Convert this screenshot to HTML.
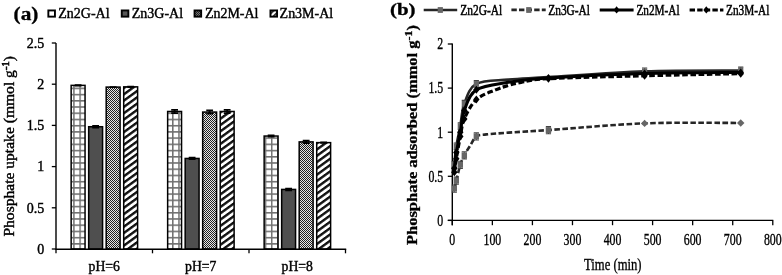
<!DOCTYPE html>
<html><head><meta charset="utf-8"><title>chart</title>
<style>
html,body{margin:0;padding:0;background:#fff;}
body{width:782px;height:275px;overflow:hidden;}
svg{display:block;will-change:transform;}
text{font-family:"Liberation Serif",serif;fill:#000;}
.t14{font-size:14px;stroke:#000;stroke-width:0.4px;}
.t16{font-size:16px;stroke:#000;stroke-width:0.35px;}
.tb{font-size:18.5px;font-weight:bold;stroke:#000;stroke-width:0.3px;}
.tbb{font-size:13.8px;font-weight:bold;stroke:#000;stroke-width:0.3px;}
</style></head><body>
<svg width="782" height="275" viewBox="0 0 782 275">
<rect width="782" height="275" fill="#fff"/>
<defs>
<pattern id="pgrid" width="6.18" height="6.22" patternUnits="userSpaceOnUse" x="73.2" y="0.5">
<rect width="6.18" height="6.22" fill="#fff"/><path d="M0,0.7 H6.18 M0.7,0 V6.22" stroke="#707070" stroke-width="1.5"/></pattern>
<pattern id="pdots" width="2" height="2" patternUnits="userSpaceOnUse">
<rect width="2" height="2" fill="#e6e6e6"/><rect width="1" height="1" fill="#222"/><rect x="1" y="1" width="1" height="1" fill="#222"/></pattern>
<pattern id="pdiag" width="5.1" height="5.1" patternUnits="userSpaceOnUse" patternTransform="rotate(-36)">
<rect width="5.1" height="5.1" fill="#fff"/><rect width="5.1" height="2.4" fill="#111"/></pattern>
<pattern id="lgrid" width="4" height="4" patternUnits="userSpaceOnUse"><rect width="4" height="4" fill="#fff"/></pattern>
<pattern id="ldots" width="2" height="2" patternUnits="userSpaceOnUse"><rect width="2" height="2" fill="#777"/><rect width="1" height="1" fill="#222"/><rect x="1" y="1" width="1" height="1" fill="#222"/></pattern>
<pattern id="ldiag" width="4" height="4" patternUnits="userSpaceOnUse" patternTransform="rotate(-45)"><rect width="4" height="4" fill="#fff"/><rect width="4" height="1.8" fill="#222"/></pattern>
</defs>
<g id="left">
<rect x="71.15" y="85.36" width="13.90" height="163.64" fill="url(#pgrid)" stroke="#000" stroke-width="1.5"/>
<path d="M74.70,85.06 H81.50 M78.10,85.06 V85.66 M74.70,85.66 H81.50" stroke="#000" stroke-width="1.7" fill="none"/>
<rect x="88.67" y="126.73" width="13.90" height="122.27" fill="#4f4f4f" stroke="#000" stroke-width="1.5"/>
<path d="M92.22,125.73 H99.02 M95.62,125.73 V127.73 M92.22,127.73 H99.02" stroke="#000" stroke-width="1.7" fill="none"/>
<rect x="106.19" y="87.09" width="13.90" height="161.91" fill="url(#pdots)" stroke="#000" stroke-width="1.5"/>
<path d="M109.74,87.09 H116.54 M113.14,87.09 V87.09 M109.74,87.09 H116.54" stroke="#000" stroke-width="1.7" fill="none"/>
<rect x="123.71" y="86.85" width="13.90" height="162.15" fill="url(#pdiag)" stroke="#000" stroke-width="1.5"/>
<path d="M127.26,86.55 H134.06 M130.66,86.55 V87.15 M127.26,87.15 H134.06" stroke="#000" stroke-width="1.7" fill="none"/>
<rect x="167.65" y="111.48" width="13.90" height="137.52" fill="url(#pgrid)" stroke="#000" stroke-width="1.5"/>
<path d="M171.20,109.78 H178.00 M174.60,109.78 V113.18 M171.20,113.18 H178.00" stroke="#000" stroke-width="1.7" fill="none"/>
<rect x="185.17" y="158.45" width="13.90" height="90.55" fill="#4f4f4f" stroke="#000" stroke-width="1.5"/>
<path d="M188.72,157.65 H195.52 M192.12,157.65 V159.25 M188.72,159.25 H195.52" stroke="#000" stroke-width="1.7" fill="none"/>
<rect x="202.69" y="112.06" width="13.90" height="136.94" fill="url(#pdots)" stroke="#000" stroke-width="1.5"/>
<path d="M206.24,110.36 H213.04 M209.64,110.36 V113.76 M206.24,113.76 H213.04" stroke="#000" stroke-width="1.7" fill="none"/>
<rect x="220.21" y="111.48" width="13.90" height="137.52" fill="url(#pdiag)" stroke="#000" stroke-width="1.5"/>
<path d="M223.76,109.78 H230.56 M227.16,109.78 V113.18 M223.76,113.18 H230.56" stroke="#000" stroke-width="1.7" fill="none"/>
<rect x="264.15" y="136.04" width="13.90" height="112.96" fill="url(#pgrid)" stroke="#000" stroke-width="1.5"/>
<path d="M267.70,135.44 H274.50 M271.10,135.44 V136.64 M267.70,136.64 H274.50" stroke="#000" stroke-width="1.7" fill="none"/>
<rect x="281.67" y="189.43" width="13.90" height="59.57" fill="#4f4f4f" stroke="#000" stroke-width="1.5"/>
<path d="M285.22,188.53 H292.02 M288.62,188.53 V190.33 M285.22,190.33 H292.02" stroke="#000" stroke-width="1.7" fill="none"/>
<rect x="299.19" y="141.89" width="13.90" height="107.11" fill="url(#pdots)" stroke="#000" stroke-width="1.5"/>
<path d="M302.74,140.59 H309.54 M306.14,140.59 V143.19 M302.74,143.19 H309.54" stroke="#000" stroke-width="1.7" fill="none"/>
<rect x="316.71" y="142.63" width="13.90" height="106.37" fill="url(#pdiag)" stroke="#000" stroke-width="1.5"/>
<path d="M320.26,142.43 H327.06 M323.66,142.43 V142.83 M320.26,142.83 H327.06" stroke="#000" stroke-width="1.7" fill="none"/>
<path d="M56,43 V249.9 M55.3,249.25 H346.2" stroke="#000" stroke-width="1.4" fill="none"/>
<path d="M51.8,249.00 H56" stroke="#000" stroke-width="1.3"/>
<path d="M51.8,207.80 H56" stroke="#000" stroke-width="1.3"/>
<path d="M51.8,166.60 H56" stroke="#000" stroke-width="1.3"/>
<path d="M51.8,125.40 H56" stroke="#000" stroke-width="1.3"/>
<path d="M51.8,84.20 H56" stroke="#000" stroke-width="1.3"/>
<path d="M51.8,43.00 H56" stroke="#000" stroke-width="1.3"/>
<path d="M56.00,249 V253.3" stroke="#000" stroke-width="1.3"/>
<path d="M152.50,249 V253.3" stroke="#000" stroke-width="1.3"/>
<path d="M249.00,249 V253.3" stroke="#000" stroke-width="1.3"/>
<path d="M345.50,249 V253.3" stroke="#000" stroke-width="1.3"/>
<text x="44.2" y="253.70" text-anchor="end" class="t14">0</text>
<text x="44.2" y="212.50" text-anchor="end" class="t14">0.5</text>
<text x="44.2" y="171.30" text-anchor="end" class="t14">1</text>
<text x="44.2" y="130.10" text-anchor="end" class="t14">1.5</text>
<text x="44.2" y="88.90" text-anchor="end" class="t14">2</text>
<text x="44.2" y="47.70" text-anchor="end" class="t14">2.5</text>
<text x="104.25" y="270.6" text-anchor="middle" class="t14" style="font-size:13.7px">pH=6</text>
<text x="200.75" y="270.6" text-anchor="middle" class="t14" style="font-size:13.7px">pH=7</text>
<text x="297.25" y="270.6" text-anchor="middle" class="t14" style="font-size:13.7px">pH=8</text>
<text transform="translate(14,236.6) rotate(-90)" class="t14" style="font-size:14px" textLength="180.5" lengthAdjust="spacingAndGlyphs">Phosphate uptake (mmol g<tspan dy="-5.5" style="font-size:9.5px;stroke-width:0.6px">-1</tspan><tspan dy="5.5">)</tspan></text>
<text x="13.6" y="20.2" class="tb" textLength="24.8" lengthAdjust="spacingAndGlyphs">(a)</text>
<rect x="48.35" y="10.45" width="6.6" height="6.2" fill="url(#lgrid)" stroke="#000" stroke-width="1.9"/>
<text x="58.30" y="18.0" class="t14" textLength="51.3" lengthAdjust="spacingAndGlyphs">Zn2G-Al</text>
<rect x="121.75" y="10.45" width="6.6" height="6.2" fill="#555" stroke="#000" stroke-width="1.9"/>
<text x="131.80" y="18.0" class="t14" textLength="51.3" lengthAdjust="spacingAndGlyphs">Zn3G-Al</text>
<rect x="194.55" y="10.45" width="6.6" height="6.2" fill="url(#ldots)" stroke="#000" stroke-width="1.9"/>
<text x="204.90" y="18.0" class="t14" textLength="53.6" lengthAdjust="spacingAndGlyphs">Zn2M-Al</text>
<rect x="270.45" y="10.45" width="6.6" height="6.2" fill="url(#ldiag)" stroke="#000" stroke-width="1.9"/>
<text x="279.60" y="18.0" class="t14" textLength="53.6" lengthAdjust="spacingAndGlyphs">Zn3M-Al</text>
</g>
<g id="right">
<path d="M452.30,43.4 V225.2 M447.8,220.40 H773.3" stroke="#000" stroke-width="1.4" fill="none"/>
<path d="M447.8,220.40 H452.30" stroke="#000" stroke-width="1.3"/>
<path d="M447.8,176.30 H452.30" stroke="#000" stroke-width="1.3"/>
<path d="M447.8,132.20 H452.30" stroke="#000" stroke-width="1.3"/>
<path d="M447.8,88.10 H452.30" stroke="#000" stroke-width="1.3"/>
<path d="M447.8,44.00 H452.30" stroke="#000" stroke-width="1.3"/>
<path d="M452.30,220.40 V225.2" stroke="#000" stroke-width="1.3"/>
<path d="M492.36,220.40 V225.2" stroke="#000" stroke-width="1.3"/>
<path d="M532.42,220.40 V225.2" stroke="#000" stroke-width="1.3"/>
<path d="M572.48,220.40 V225.2" stroke="#000" stroke-width="1.3"/>
<path d="M612.54,220.40 V225.2" stroke="#000" stroke-width="1.3"/>
<path d="M652.60,220.40 V225.2" stroke="#000" stroke-width="1.3"/>
<path d="M692.66,220.40 V225.2" stroke="#000" stroke-width="1.3"/>
<path d="M732.72,220.40 V225.2" stroke="#000" stroke-width="1.3"/>
<path d="M772.78,220.40 V225.2" stroke="#000" stroke-width="1.3"/>
<text transform="translate(443.2,225.70) scale(0.74,1)" text-anchor="end" class="t16">0</text>
<text transform="translate(443.2,181.60) scale(0.74,1)" text-anchor="end" class="t16">0.5</text>
<text transform="translate(443.2,137.50) scale(0.74,1)" text-anchor="end" class="t16">1</text>
<text transform="translate(443.2,93.40) scale(0.74,1)" text-anchor="end" class="t16">1.5</text>
<text transform="translate(443.2,49.30) scale(0.74,1)" text-anchor="end" class="t16">2</text>
<text transform="translate(452.30,244.6) scale(0.74,1)" text-anchor="middle" class="t16">0</text>
<text transform="translate(492.36,244.6) scale(0.74,1)" text-anchor="middle" class="t16">100</text>
<text transform="translate(532.42,244.6) scale(0.74,1)" text-anchor="middle" class="t16">200</text>
<text transform="translate(572.48,244.6) scale(0.74,1)" text-anchor="middle" class="t16">300</text>
<text transform="translate(612.54,244.6) scale(0.74,1)" text-anchor="middle" class="t16">400</text>
<text transform="translate(652.60,244.6) scale(0.74,1)" text-anchor="middle" class="t16">500</text>
<text transform="translate(692.66,244.6) scale(0.74,1)" text-anchor="middle" class="t16">600</text>
<text transform="translate(732.72,244.6) scale(0.74,1)" text-anchor="middle" class="t16">700</text>
<text transform="translate(772.78,244.6) scale(0.74,1)" text-anchor="middle" class="t16">800</text>
<text transform="translate(612.8,269.7) scale(0.745,1)" text-anchor="middle" class="t16" style="font-size:17px">Time (min)</text>
<text transform="translate(416.9,245) rotate(-90)" class="tbb" textLength="220" lengthAdjust="spacingAndGlyphs">Phosphate adsorbed (mmol g<tspan dy="-4.6" style="font-size:10px">-1</tspan><tspan dy="4.6">)</tspan></text>
<text x="390" y="14.7" class="tb" style="font-size:16.5px" textLength="25.6" lengthAdjust="spacingAndGlyphs">(b)</text>
<path d="M454.30,164.83 C454.64,161.75 455.30,152.78 456.31,146.31 C457.31,139.84 458.98,133.13 460.31,126.03 C461.65,118.93 461.65,110.72 464.32,103.71 C466.99,96.70 468.99,87.97 476.34,83.95 C483.68,79.94 496.37,80.76 508.38,79.63 C520.40,78.50 525.74,78.54 548.44,77.16 C571.14,75.78 612.54,72.46 644.59,71.34 C676.64,70.22 724.71,70.61 740.73,70.46" fill="none" stroke="#262626" stroke-width="2.6"/>
<path d="M451.70,161.53 H456.90 M454.30,161.53 V168.13 M451.70,168.13 H456.90" stroke="#444" stroke-width="1.1" fill="none"/>
<rect x="451.70" y="161.93" width="5.20" height="5.80" fill="#666"/>
<path d="M453.71,143.01 H458.91 M456.31,143.01 V149.61 M453.71,149.61 H458.91" stroke="#444" stroke-width="1.1" fill="none"/>
<rect x="453.71" y="143.41" width="5.20" height="5.80" fill="#666"/>
<path d="M457.71,122.73 H462.91 M460.31,122.73 V129.33 M457.71,129.33 H462.91" stroke="#444" stroke-width="1.1" fill="none"/>
<rect x="457.71" y="123.13" width="5.20" height="5.80" fill="#666"/>
<path d="M461.72,100.41 H466.92 M464.32,100.41 V107.01 M461.72,107.01 H466.92" stroke="#444" stroke-width="1.1" fill="none"/>
<rect x="461.72" y="100.81" width="5.20" height="5.80" fill="#666"/>
<path d="M473.74,80.65 H478.94 M476.34,80.65 V87.25 M473.74,87.25 H478.94" stroke="#444" stroke-width="1.1" fill="none"/>
<rect x="473.74" y="81.05" width="5.20" height="5.80" fill="#666"/>
<path d="M641.99,68.04 H647.19 M644.59,68.04 V74.64 M641.99,74.64 H647.19" stroke="#444" stroke-width="1.1" fill="none"/>
<rect x="641.99" y="68.44" width="5.20" height="5.80" fill="#666"/>
<path d="M738.13,67.16 H743.33 M740.73,67.16 V73.76 M738.13,73.76 H743.33" stroke="#444" stroke-width="1.1" fill="none"/>
<rect x="738.13" y="67.56" width="5.20" height="5.80" fill="#666"/>
<path d="M454.30,188.65 C454.64,187.32 455.30,184.68 456.31,180.71 C457.31,176.74 458.98,169.07 460.31,164.83 C461.65,160.60 462.65,158.54 464.32,155.31 C465.99,152.07 468.32,148.58 470.33,145.43 C472.33,142.28 473.67,138.27 476.34,136.43 C479.01,134.60 481.01,135.04 486.35,134.41 C491.69,133.77 498.04,133.36 508.38,132.64 C518.73,131.92 525.74,131.63 548.44,130.08 C571.14,128.54 612.54,124.57 644.59,123.38 C676.64,122.19 724.71,123.01 740.73,122.94" fill="none" stroke="#262626" stroke-width="2.6" stroke-dasharray="5.5 2.5"/>
<path d="M451.70,185.05 H456.90 M454.30,185.05 V192.25 M451.70,192.25 H456.90" stroke="#444" stroke-width="1.1" fill="none"/>
<rect x="451.60" y="185.65" width="5.40" height="6.00" fill="#666"/>
<path d="M453.71,177.11 H458.91 M456.31,177.11 V184.31 M453.71,184.31 H458.91" stroke="#444" stroke-width="1.1" fill="none"/>
<rect x="453.61" y="177.71" width="5.40" height="6.00" fill="#666"/>
<path d="M457.71,161.23 H462.91 M460.31,161.23 V168.43 M457.71,168.43 H462.91" stroke="#444" stroke-width="1.1" fill="none"/>
<rect x="457.61" y="161.83" width="5.40" height="6.00" fill="#666"/>
<path d="M461.72,151.71 H466.92 M464.32,151.71 V158.91 M461.72,158.91 H466.92" stroke="#444" stroke-width="1.1" fill="none"/>
<rect x="461.62" y="152.31" width="5.40" height="6.00" fill="#666"/>
<path d="M473.74,132.83 H478.94 M476.34,132.83 V140.03 M473.74,140.03 H478.94" stroke="#444" stroke-width="1.1" fill="none"/>
<rect x="473.64" y="133.43" width="5.40" height="6.00" fill="#666"/>
<path d="M545.84,126.48 H551.04 M548.44,126.48 V133.68 M545.84,133.68 H551.04" stroke="#444" stroke-width="1.1" fill="none"/>
<rect x="545.74" y="127.08" width="5.40" height="6.00" fill="#666"/>
<path d="M640.89,123.38 L644.59,119.68 L648.29,123.38 L644.59,127.08 Z" fill="#666"/>
<path d="M737.03,122.94 L740.73,119.24 L744.43,122.94 L740.73,126.64 Z" fill="#666"/>
<path d="M454.30,168.36 C454.64,165.72 455.30,158.51 456.31,152.49 C457.31,146.46 458.98,139.18 460.31,132.20 C461.65,125.22 461.65,117.65 464.32,110.59 C466.99,103.53 468.99,94.58 476.34,89.86 C483.68,85.15 496.37,84.26 508.38,82.28 C520.40,80.29 525.74,79.41 548.44,77.96 C571.14,76.50 612.54,74.46 644.59,73.55 C676.64,72.64 724.71,72.66 740.73,72.49" fill="none" stroke="#000" stroke-width="3"/>
<path d="M451.10,168.36 L454.30,164.36 L457.50,168.36 L454.30,172.36 Z" fill="#000"/>
<path d="M453.11,152.49 L456.31,148.49 L459.51,152.49 L456.31,156.49 Z" fill="#000"/>
<path d="M457.11,132.20 L460.31,128.20 L463.51,132.20 L460.31,136.20 Z" fill="#000"/>
<path d="M461.12,110.59 L464.32,106.59 L467.52,110.59 L464.32,114.59 Z" fill="#000"/>
<path d="M473.14,89.86 L476.34,85.86 L479.54,89.86 L476.34,93.86 Z" fill="#000"/>
<path d="M545.24,77.96 L548.44,73.96 L551.64,77.96 L548.44,81.96 Z" fill="#000"/>
<path d="M641.39,73.55 L644.59,69.55 L647.79,73.55 L644.59,77.55 Z" fill="#000"/>
<path d="M737.53,72.49 L740.73,68.49 L743.93,72.49 L740.73,76.49 Z" fill="#000"/>
<path d="M454.30,172.33 C454.64,170.05 455.30,164.61 456.31,158.66 C457.31,152.71 458.98,143.23 460.31,136.61 C461.65,130.00 461.65,125.14 464.32,118.97 C466.99,112.80 471.13,104.42 476.34,99.57 C481.54,94.71 490.22,92.22 495.56,89.86 C500.91,87.51 504.11,86.70 508.38,85.45 C512.66,84.20 514.53,83.50 521.20,82.37 C527.88,81.24 527.88,79.77 548.44,78.66 C569.01,77.56 612.54,76.59 644.59,75.75 C676.64,74.91 724.71,73.99 740.73,73.64" fill="none" stroke="#000" stroke-width="3.2" stroke-dasharray="5.6 2.6"/>
<path d="M451.10,172.33 L454.30,168.33 L457.50,172.33 L454.30,176.33 Z" fill="#000"/>
<path d="M453.11,158.66 L456.31,154.66 L459.51,158.66 L456.31,162.66 Z" fill="#000"/>
<path d="M457.11,136.61 L460.31,132.61 L463.51,136.61 L460.31,140.61 Z" fill="#000"/>
<path d="M461.12,118.97 L464.32,114.97 L467.52,118.97 L464.32,122.97 Z" fill="#000"/>
<path d="M473.14,99.57 L476.34,95.57 L479.54,99.57 L476.34,103.57 Z" fill="#000"/>
<path d="M545.24,78.66 L548.44,74.66 L551.64,78.66 L548.44,82.66 Z" fill="#000"/>
<path d="M641.39,75.75 L644.59,71.75 L647.79,75.75 L644.59,79.75 Z" fill="#000"/>
<path d="M737.53,73.64 L740.73,69.64 L743.93,73.64 L740.73,77.64 Z" fill="#000"/>
<path d="M423.7,9.90 H457.2" stroke="#262626" stroke-width="2.5"/>
<rect x="437.70" y="7.10" width="5.20" height="5.80" fill="#666"/>
<path d="M511.4,9.90 H545.7" stroke="#262626" stroke-width="2.8" stroke-dasharray="5.4 2.2"/>
<rect x="526.20" y="7.10" width="5.20" height="5.80" fill="#666"/>
<path d="M599.7,9.90 H633.6" stroke="#000" stroke-width="3.0"/>
<path d="M613.60,9.90 L616.60,6.20 L619.60,9.90 L616.60,13.60 Z" fill="#000"/>
<path d="M689.6,9.90 H723.4" stroke="#000" stroke-width="3.0" stroke-dasharray="5.4 2.2"/>
<path d="M703.30,9.90 L706.30,6.20 L709.30,9.90 L706.30,13.60 Z" fill="#000"/>
<text x="460.20" y="14.7" class="t14" style="font-size:15px;stroke-width:0.5px" textLength="42.0" lengthAdjust="spacingAndGlyphs">Zn2G-Al</text>
<text x="548.30" y="14.7" class="t14" style="font-size:15px;stroke-width:0.5px" textLength="41.6" lengthAdjust="spacingAndGlyphs">Zn3G-Al</text>
<text x="636.40" y="14.7" class="t14" style="font-size:15px;stroke-width:0.5px" textLength="43.2" lengthAdjust="spacingAndGlyphs">Zn2M-Al</text>
<text x="726.10" y="14.7" class="t14" style="font-size:15px;stroke-width:0.5px" textLength="43.2" lengthAdjust="spacingAndGlyphs">Zn3M-Al</text>
</g>
</svg>
</body></html>
